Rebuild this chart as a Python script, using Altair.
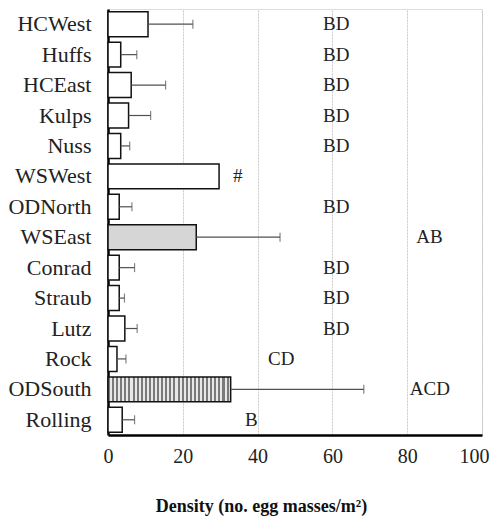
import altair as alt
import pandas as pd

sites = ["HCWest", "Huffs", "HCEast", "Kulps", "Nuss", "WSWest", "ODNorth",
         "WSEast", "Conrad", "Straub", "Lutz", "Rock", "ODSouth", "Rolling"]
means = [10.7, 3.4, 6.2, 5.5, 3.4, 29.7, 3.0, 23.6, 3.0, 3.0, 4.5, 2.4, 32.8, 3.8]
err_upper = [22.7, 7.7, 15.4, 11.4, 5.8, None, 6.4, 46.0, 7.1, 4.4, 7.8, 4.8, 68.4, 7.1]
letters = ["BD", "BD", "BD", "BD", "BD", "#", "BD", "AB", "BD", "BD", "BD", "CD", "ACD", "B"]
letter_pos = [57.5, 57.5, 57.5, 57.5, 57.5, 33.4, 57.5, 82.4, 57.5, 57.5, 57.5, 42.8, 80.7, 36.6]
fill_kind = ["plain"] * 7 + ["dots"] + ["plain"] * 4 + ["stripes"] + ["plain"]

df = pd.DataFrame({
    "site": sites, "mean": means, "err": err_upper,
    "letter": letters, "lpos": letter_pos, "kind": fill_kind,
})

FONT = "Liberation Serif"
TITLE = "Density (no. egg masses/m²)"


def xenc(field):
    return alt.X(
        field + ":Q",
        title=TITLE,
        scale=alt.Scale(domain=[0, 100], nice=False),
        axis=alt.Axis(
            values=[0, 20, 40, 60, 80, 100],
            grid=True, gridColor="#c8c8c8", gridDash=[2, 1], gridWidth=1,
            domain=True, domainColor="#000", domainWidth=2.5,
            ticks=False, labelPadding=11, labelFlush=False,
            labelOffset=alt.expr("datum.value == 100 ? -8 : 0"),
            labelFont=FONT, labelFontSize=20, labelColor="#222",
            titleFont=FONT, titleFontSize=18, titleFontWeight="bold", titleColor="#111",
            titleX=153, titleY=76, titleAlign="center", titleBaseline="alphabetic",
        ),
    )


yenc = alt.Y(
    "site:N", sort=sites, title=None,
    scale=alt.Scale(paddingInner=0.18, paddingOuter=0.09),
    axis=alt.Axis(
        domain=True, domainColor="#000", domainWidth=2.5,
        ticks=False, grid=False, labelPadding=17,
        labelFont=FONT, labelFontSize=22, labelColor="#222",
    ),
)

base = alt.Chart(df)

plain = base.transform_filter(alt.datum.kind == "plain").mark_bar(
    fill="white", stroke="#111", strokeWidth=1.5
).encode(x=xenc("mean"), y=yenc)

dots = base.transform_filter(alt.datum.kind == "dots").mark_bar(
    fill="#d6d6d6", stroke="#111", strokeWidth=1.5
).encode(x=xenc("mean"), y=yenc)

N = 30
stops = []
for i in range(N):
    a = i / N
    b = (i + 0.5) / N
    c = (i + 1) / N
    stops.append(alt.GradientStop(offset=a, color="#7a7a7a"))
    stops.append(alt.GradientStop(offset=b, color="#7a7a7a"))
    stops.append(alt.GradientStop(offset=b, color="#e8e8e8"))
    stops.append(alt.GradientStop(offset=c, color="#e8e8e8"))

stripes = base.transform_filter(alt.datum.kind == "stripes").mark_bar(
    fill=alt.Gradient(gradient="linear", stops=stops, x1=0, x2=1, y1=0, y2=0),
    stroke="#111", strokeWidth=1.5,
).encode(x=xenc("mean"), y=yenc)

errs = base.transform_filter("isValid(datum.err)")

err_line = errs.mark_rule(color="#505050", strokeWidth=1.2).encode(
    x=xenc("mean"), x2="err:Q", y=yenc
)
err_cap = errs.mark_tick(color="#505050", thickness=1.2, size=9, orient="vertical").encode(
    x=xenc("err"), y=yenc
)

txt = base.mark_text(
    align="left", baseline="middle", font=FONT, fontSize=19, color="#222"
).encode(x=xenc("lpos"), y=yenc, text="letter:N")

chart = alt.layer(plain, dots, stripes, err_line, err_cap, txt).properties(
    width=374, height=426,
    autosize=alt.AutoSizeParams(type="none"),
    padding={"left": 100, "top": 1, "right": 8, "bottom": 84},
).configure_view(stroke=None).configure(background="white")

chart.save("out.html", embed_options={"renderer": "svg", "actions": False})
